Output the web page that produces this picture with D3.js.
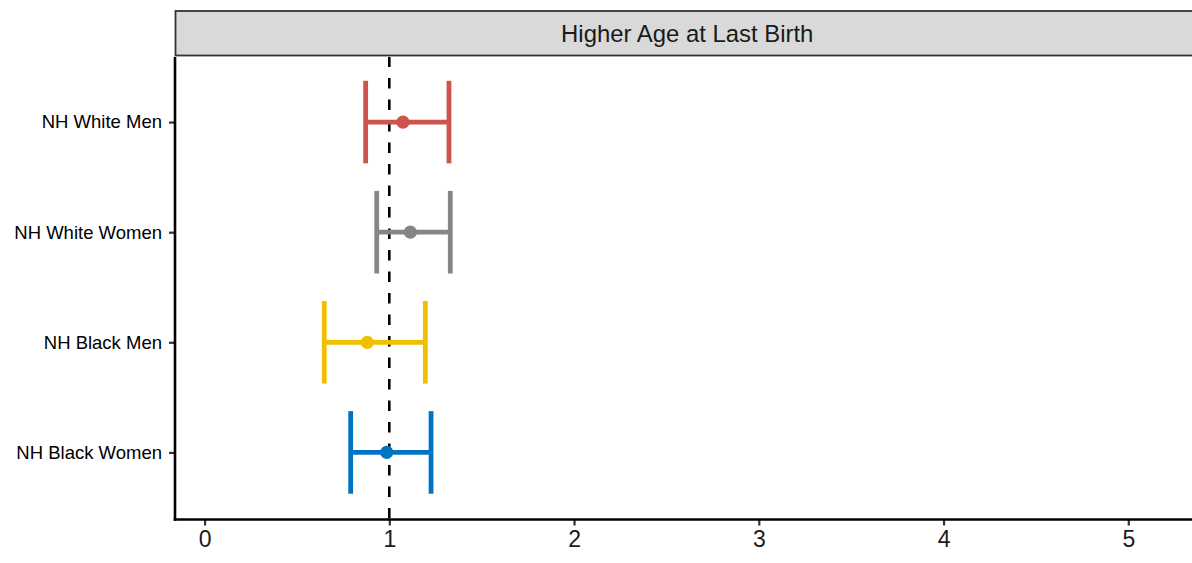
<!DOCTYPE html>
<html><head><meta charset="utf-8">
<script src="https://cdn.jsdelivr.net/npm/d3@7"></script>
<style>html,body{margin:0;padding:0;background:#fff;overflow:hidden}svg{display:block;font-family:"Liberation Sans",Arial,sans-serif}</style>
</head><body>
<script>
const categories = ["NH White Men","NH White Women","NH Black Men","NH Black Women"];
const estimates = [1.074, 1.114, 0.881, 0.986];
const lower = [0.872, 0.932, 0.648, 0.791];
const upper = [1.323, 1.330, 1.195, 1.226];
const colors = ["#CD534C","#868686","#EFC000","#0073C2"];
const xTicks = [0,1,2,3,4,5];
const refLine = 1;
const stripTitle = "Higher Age at Last Birth";

(function(){
const W = 1192, H = 563;
const pLeft = 175, pRight = 1199, pTop = 57, pBottom = 519.5;
const svg = d3.select("body").append("svg").attr("width", W).attr("height", H);

const x = d3.scaleLinear().domain([0,5]).range([204.55, 1128.3]);
const y = d3.scalePoint().domain(categories).range([pTop - 1, pBottom - 1]).padding(0.6);
const step = y.step();

// strip
svg.append("rect").attr("x", 175.5).attr("y", 11).attr("width", 1100).attr("height", 44.5)
  .attr("fill", "#D9D9D9").attr("stroke", "#333").attr("stroke-width", 1.8);
svg.append("text").attr("x", (175.5 + pRight) / 2).attr("y", 42.3).attr("text-anchor", "middle")
  .attr("font-size", 23.9).attr("fill", "#1a1a1a").text(stripTitle);

// reference dashed line (drawn from bottom upward)
svg.append("line").attr("x1", x(refLine)).attr("x2", x(refLine)).attr("y1", pBottom - 1).attr("y2", pTop)
  .attr("stroke", "#000").attr("stroke-width", 2.6).attr("stroke-dasharray", "10.5,11");

const rows = categories.map((c,i) => ({c, est: estimates[i], lo: lower[i], hi: upper[i], col: colors[i]}));
const g = svg.append("g");
rows.forEach(d => {
  const yy = y(d.c), hw = step * 0.375;
  g.append("line").attr("x1", x(d.lo)).attr("x2", x(d.hi)).attr("y1", yy).attr("y2", yy)
    .attr("stroke", d.col).attr("stroke-width", 4.8);
  [d.lo, d.hi].forEach(v => g.append("line").attr("x1", x(v)).attr("x2", x(v))
    .attr("y1", yy - hw).attr("y2", yy + hw).attr("stroke", d.col).attr("stroke-width", 4.8));
  g.append("circle").attr("cx", x(d.est)).attr("cy", yy).attr("r", 6.6).attr("fill", d.col);
});

// axes
const xAxis = svg.append("g").attr("transform", `translate(0,${pBottom})`)
  .call(d3.axisBottom(x).tickValues(xTicks).tickSize(6).tickPadding(5).tickFormat(d3.format("d")));
xAxis.select(".domain").remove();
xAxis.selectAll(".tick line").attr("stroke", "#333").attr("stroke-width", 2.2);
xAxis.selectAll(".tick text").attr("font-size", 23).attr("fill", "#1a1a1a").attr("font-family", "Liberation Sans, Arial, sans-serif");

const yAxis = svg.append("g").attr("transform", `translate(${pLeft},0)`)
  .call(d3.axisLeft(y).tickSize(6).tickPadding(7));
yAxis.select(".domain").remove();
yAxis.selectAll(".tick line").attr("stroke", "#333").attr("stroke-width", 2.2);
yAxis.selectAll(".tick text").attr("font-size", 18.5).attr("fill", "#000").attr("font-family", "Liberation Sans, Arial, sans-serif");

svg.append("line").attr("x1", pLeft).attr("x2", pLeft).attr("y1", pTop).attr("y2", pBottom + 1.2)
  .attr("stroke", "#000").attr("stroke-width", 2.6);
svg.append("line").attr("x1", pLeft - 1.3).attr("x2", pRight).attr("y1", pBottom).attr("y2", pBottom)
  .attr("stroke", "#000").attr("stroke-width", 2.6);
})();
</script>
</body></html>
